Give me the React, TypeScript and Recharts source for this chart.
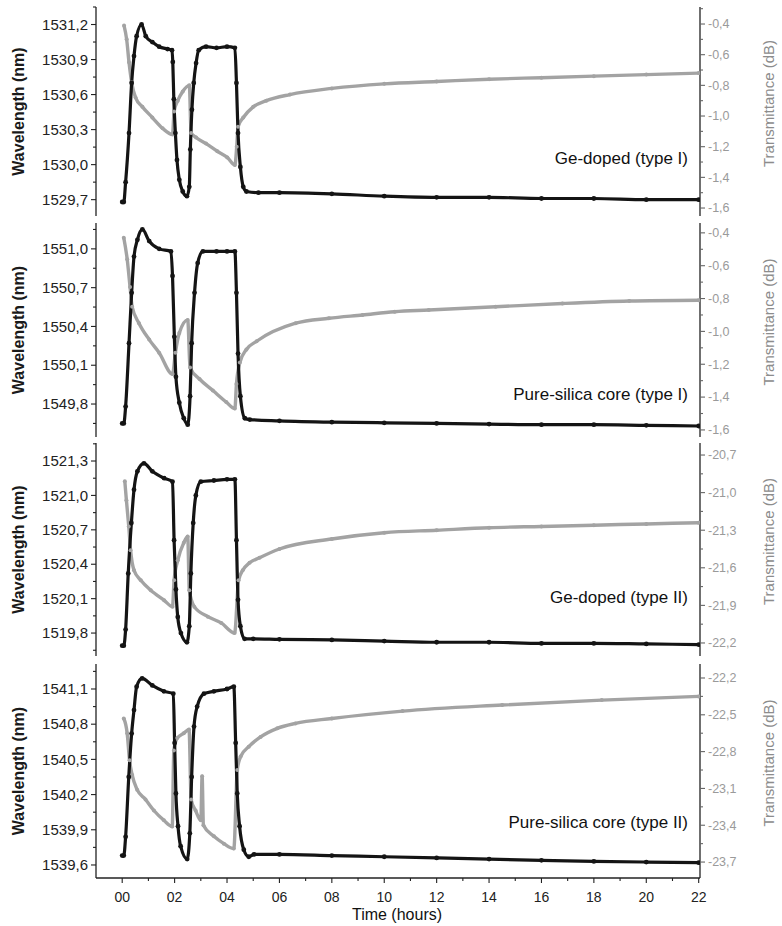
import React from 'react';
import { ComposedChart, Line, XAxis, YAxis } from 'recharts';

const FONT = '"Liberation Sans", Arial, sans-serif';
const INK = '#141414';
const GREY = '#a3a3a3';
const FRAME = '#222';

// time axis (hours)
const hourTicks = [0, 2, 4, 6, 8, 10, 12, 14, 16, 18, 20, 22];
const hourMinorTicks = [1, 3, 5, 7, 9, 11, 13, 15, 17, 19, 21];

// panel 1 - Ge-doped (type I)
const p1WaveT = [0, 0.06, 0.13, 0.26, 0.36, 0.45, 0.55, 0.74, 0.9, 1.15, 1.41, 1.73, 1.9, 1.93, 1.97, 2.03, 2.09, 2.18, 2.31, 2.47, 2.56, 2.6, 2.66, 2.73, 2.82, 2.92, 3.2, 3.6, 4.0, 4.3, 4.36, 4.42, 4.51, 4.62, 4.74, 5.2, 6, 8, 10, 12, 14, 16, 18, 20, 22];
const p1WaveV = [1529.68, 1529.68, 1529.85, 1530.27, 1530.7, 1530.93, 1531.1, 1531.2, 1531.1, 1531.05, 1531.01, 1530.99, 1530.98, 1530.88, 1530.56, 1530.27, 1530.04, 1529.87, 1529.77, 1529.73, 1529.81, 1530.13, 1530.47, 1530.7, 1530.87, 1530.98, 1531.01, 1531.0, 1531.01, 1531.0, 1530.7, 1530.27, 1529.98, 1529.81, 1529.77, 1529.76, 1529.76, 1529.75, 1529.73, 1529.72, 1529.72, 1529.71, 1529.71, 1529.7, 1529.7];
const p1TransT = [0.07, 0.17, 0.26, 0.36, 0.51, 0.77, 1.15, 1.54, 1.92, 1.98, 2.12, 2.31, 2.56, 2.63, 2.82, 3.2, 3.63, 4.01, 4.3, 4.37, 4.42, 4.62, 5.0, 5.5, 6.4, 8, 10, 12, 14, 16, 18, 20, 22];
const p1TransV = [-0.41, -0.5, -0.65, -0.78, -0.88, -0.94, -1.01, -1.08, -1.12, -0.97, -0.9, -0.84, -0.8, -1.11, -1.14, -1.18, -1.23, -1.27, -1.32, -1.2, -1.07, -1.01, -0.94, -0.9, -0.86, -0.82, -0.79, -0.775, -0.76, -0.75, -0.74, -0.73, -0.72];
const p1LeftTicks = [1529.7, 1530.0, 1530.3, 1530.6, 1530.9, 1531.2];
const p1RightTicks = [-1.6, -1.4, -1.2, -1.0, -0.8, -0.6, -0.4];

// panel 2 - Pure-silica core (type I)
const p2WaveT = [0, 0.06, 0.13, 0.26, 0.36, 0.45, 0.58, 0.77, 1.03, 1.41, 1.86, 1.92, 1.99, 2.05, 2.18, 2.35, 2.5, 2.59, 2.65, 2.76, 2.88, 3.08, 3.6, 4.0, 4.3, 4.36, 4.42, 4.51, 4.68, 4.87, 6, 8, 10, 12, 14, 16, 18, 20, 22];
const p2WaveV = [1549.65, 1549.65, 1549.78, 1550.27, 1550.66, 1550.94, 1551.07, 1551.15, 1551.06, 1551.0, 1550.98, 1550.79, 1550.32, 1550.01, 1549.81, 1549.69, 1549.64, 1549.86, 1550.27, 1550.66, 1550.89, 1550.98, 1550.98, 1550.98, 1550.98, 1550.66, 1550.19, 1549.86, 1549.69, 1549.68, 1549.67, 1549.66, 1549.655, 1549.65, 1549.645, 1549.64, 1549.64, 1549.635, 1549.63];
const p2TransT = [0.06, 0.19, 0.3, 0.38, 0.64, 1.03, 1.41, 1.92, 2.03, 2.18, 2.5, 2.59, 2.95, 3.46, 3.97, 4.3, 4.36, 4.49, 4.74, 5.13, 6.62, 7.89, 9.17, 10.4, 11.7, 14.25, 16.8, 19.35, 22];
const p2TransV = [-0.43, -0.56, -0.73, -0.85, -0.95, -1.05, -1.13, -1.26, -1.13, -1.01, -0.93, -1.22, -1.29, -1.36, -1.43, -1.47, -1.32, -1.19, -1.11, -1.06, -0.95, -0.92, -0.9, -0.88, -0.87, -0.85, -0.83, -0.815, -0.81];
const p2LeftTicks = [1549.8, 1550.1, 1550.4, 1550.7, 1551.0];
const p2RightTicks = [-1.6, -1.4, -1.2, -1.0, -0.8, -0.6, -0.4];

// panel 3 - Ge-doped (type II)
const p3WaveT = [0, 0.06, 0.13, 0.23, 0.35, 0.45, 0.58, 0.83, 1.15, 1.6, 1.92, 1.98, 2.05, 2.12, 2.24, 2.47, 2.56, 2.62, 2.71, 2.81, 3.0, 3.5, 4.0, 4.3, 4.36, 4.42, 4.51, 4.67, 5.0, 6, 8, 10, 12, 14, 16, 18, 20, 22];
const p3WaveV = [1519.69, 1519.69, 1519.83, 1520.32, 1520.76, 1521.05, 1521.21, 1521.28, 1521.21, 1521.15, 1521.12, 1520.61, 1520.18, 1519.94, 1519.8, 1519.72, 1519.86, 1520.32, 1520.76, 1521.0, 1521.12, 1521.13, 1521.14, 1521.14, 1520.61, 1520.09, 1519.86, 1519.75, 1519.75, 1519.745, 1519.74, 1519.73, 1519.72, 1519.72, 1519.71, 1519.71, 1519.705, 1519.7];
const p3TransT = [0.1, 0.16, 0.25, 0.32, 0.45, 0.71, 1.09, 1.6, 1.92, 1.98, 2.12, 2.35, 2.5, 2.56, 2.75, 3.27, 3.78, 4.29, 4.44, 4.6, 4.86, 5.24, 6, 8, 10, 12, 14, 16, 18, 20, 22];
const p3TransV = [-20.91, -21.06, -21.27, -21.46, -21.62, -21.7, -21.78, -21.86, -21.91, -21.7, -21.54, -21.4, -21.35, -21.78, -21.91, -21.99, -22.04, -22.12, -21.7, -21.62, -21.56, -21.52, -21.45, -21.37, -21.32, -21.3, -21.28, -21.27, -21.26, -21.25, -21.24];
const p3LeftTicks = [1519.8, 1520.1, 1520.4, 1520.7, 1521.0, 1521.3];
const p3RightTicks = [-22.2, -21.9, -21.6, -21.3, -21.0, -20.7];

// panel 4 - Pure-silica core (type II)
const p4WaveT = [0, 0.06, 0.13, 0.25, 0.36, 0.45, 0.55, 0.76, 1.15, 1.59, 1.95, 2.0, 2.05, 2.13, 2.23, 2.48, 2.58, 2.65, 2.74, 2.86, 3.12, 3.5, 4.0, 4.26, 4.33, 4.39, 4.48, 4.64, 4.83, 5.03, 6, 8, 10, 12, 14, 16, 18, 20, 22];
const p4WaveV = [1539.68, 1539.68, 1539.84, 1540.35, 1540.72, 1540.92, 1541.12, 1541.19, 1541.13, 1541.08, 1541.06, 1540.64, 1540.21, 1539.93, 1539.76, 1539.65, 1539.87, 1540.35, 1540.78, 1540.95, 1541.06, 1541.08, 1541.1, 1541.12, 1540.64, 1540.21, 1539.93, 1539.73, 1539.67, 1539.69, 1539.69, 1539.68, 1539.67, 1539.66, 1539.65, 1539.64, 1539.63, 1539.625, 1539.62];
const p4TransT = [0.06, 0.19, 0.28, 0.38, 0.57, 0.89, 1.21, 1.59, 1.91, 1.97, 2.1, 2.35, 2.55, 2.63, 2.8, 3.0, 3.05, 3.1, 3.5, 3.88, 4.26, 4.39, 4.52, 4.83, 5.28, 5.92, 6.61, 8, 10.7, 14.5, 18.3, 22];
const p4TransV = [-22.53, -22.65, -22.87, -22.99, -23.11, -23.19, -23.28, -23.36, -23.41, -22.79, -22.69, -22.65, -22.62, -23.19, -23.28, -23.36, -23.0, -23.4, -23.49, -23.55, -23.59, -22.95, -22.84, -22.76, -22.68, -22.61, -22.57, -22.53, -22.47, -22.42, -22.38, -22.35];
const p4LeftTicks = [1539.6, 1539.9, 1540.2, 1540.5, 1540.8, 1541.1];
const p4RightTicks = [-23.7, -23.4, -23.1, -22.8, -22.5, -22.2];

const pts = (t: number[], v: number[]) => t.map((x, i) => ({ t: x, v: v[i] }));

// major ticks plus the half-step minor ones inside the domain
const withMinor = (majors: number[], dom: number[]) => {
  const half = (majors[1] - majors[0]) / 2;
  const out: number[] = [];
  for (let i = -1; i <= majors.length * 2; i++) {
    const v = +(majors[0] + i * half).toFixed(3);
    if (v >= dom[0] && v <= dom[1]) out.push(v);
  }
  return out;
};

const fmt = (v: number) => v.toFixed(1).replace('.', ',');

const X_DOMAIN = [-1.0, 22.05];
const xTicks = [...hourTicks, ...hourMinorTicks].sort((a, b) => a - b);

const panels = [
  {
    note: 'Ge-doped (type I)', top: 7, h: 209, noteY: 164,
    wave: pts(p1WaveT, p1WaveV), trans: pts(p1TransT, p1TransV),
    left: p1LeftTicks, leftDomain: [1529.56, 1531.35],
    right: p1RightTicks, rightDomain: [-1.652, -0.289],
  },
  {
    note: 'Pure-silica core (type I)', top: 223, h: 214, noteY: 400,
    wave: pts(p2WaveT, p2WaveV), trans: pts(p2TransT, p2TransV),
    left: p2LeftTicks, leftDomain: [1549.545, 1551.2],
    right: p2RightTicks, rightDomain: [-1.643, -0.34],
  },
  {
    note: 'Ge-doped (type II)', top: 443, h: 213, noteY: 603,
    wave: pts(p3WaveT, p3WaveV), trans: pts(p3TransT, p3TransV),
    left: p3LeftTicks, leftDomain: [1519.6, 1521.457],
    right: p3RightTicks, rightDomain: [-22.304, -20.604],
  },
  {
    note: 'Pure-silica core (type II)', top: 664, h: 214, noteY: 828,
    wave: pts(p4WaveT, p4WaveV), trans: pts(p4TransT, p4TransV),
    left: p4LeftTicks, leftDomain: [1539.489, 1541.313],
    right: p4RightTicks, rightDomain: [-23.83, -22.086],
  },
];

const XTick = (props: any) => {
  const { x, y, payload, dir, showLabel } = props;
  const major = payload.value % 2 === 0;
  const len = major ? 5 : 3;
  return (
    <g>
      <line x1={x} y1={y} x2={x} y2={y + dir * len} stroke={FRAME} strokeWidth={1.1} />
      {showLabel && major && (
        <text x={x} y={y + 24} textAnchor="middle" fontSize={14} fill="#222" fontFamily={FONT}>
          {String(payload.value).padStart(2, '0')}
        </text>
      )}
    </g>
  );
};

const YTick = (props: any) => {
  const { x, y, payload, side, majors } = props;
  const v = payload.value;
  const major = majors.some((m: number) => Math.abs(m - v) < 1e-6);
  const dir = side === 'left' ? -1 : 1;
  const len = major ? 5 : 3;
  const isLeft = side === 'left';
  return (
    <g>
      <line x1={x} y1={y} x2={x + dir * len} y2={y} stroke={isLeft ? FRAME : '#666'} strokeWidth={1.1} />
      {major && (
        <text
          x={x + dir * (len + 3)}
          y={y}
          dy="0.35em"
          textAnchor={isLeft ? 'end' : 'start'}
          fontSize={isLeft ? 15 : 12.5}
          fill={isLeft ? '#222' : '#9a9a9a'}
          fontFamily={FONT}
        >
          {fmt(v)}
        </text>
      )}
    </g>
  );
};

const Panel = ({ cfg, last }: { cfg: any; last: boolean }) => {
  const mTop = 2;
  const mBot = last ? 0 : 6;
  const axisH = last ? 48 : 0;
  const height = mTop + cfg.h + axisH + mBot;
  const axisLine = { stroke: FRAME, strokeWidth: 1.3 };
  return (
    <div style={{ position: 'absolute', left: 0, top: cfg.top - mTop }}>
      <ComposedChart width={782} height={height} margin={{ top: mTop, right: 0, bottom: mBot, left: 0 }}>
        <XAxis
          xAxisId="bottom" dataKey="t" type="number" domain={X_DOMAIN} ticks={xTicks} interval={0}
          allowDataOverflow height={axisH} tickSize={0} tickMargin={0} tickLine={false} axisLine={axisLine}
          tick={(p: any) => <XTick {...p} dir={last ? 1 : -1} showLabel={last} />}
        />
        <XAxis
          xAxisId="top" orientation="top" dataKey="t" type="number" domain={X_DOMAIN} ticks={xTicks} interval={0}
          allowDataOverflow height={0} tickSize={0} tickMargin={0} tickLine={false} axisLine={axisLine}
          tick={(p: any) => <XTick {...p} dir={1} showLabel={false} />}
        />
        <YAxis
          yAxisId="left" type="number" width={96} domain={cfg.leftDomain} allowDataOverflow
          ticks={withMinor(cfg.left, cfg.leftDomain)} interval={0} tickSize={0} tickMargin={0}
          tickLine={false} axisLine={axisLine}
          tick={(p: any) => <YTick {...p} side="left" majors={cfg.left} />}
        />
        <YAxis
          yAxisId="right" orientation="right" type="number" width={82} domain={cfg.rightDomain} allowDataOverflow
          ticks={withMinor(cfg.right, cfg.rightDomain)} interval={0} tickSize={0} tickMargin={0}
          tickLine={false} axisLine={axisLine}
          tick={(p: any) => <YTick {...p} side="right" majors={cfg.right} />}
        />
        <Line
          xAxisId="top" yAxisId="right" data={cfg.trans} dataKey="v" type="monotone"
          stroke={GREY} strokeWidth={3.4} dot={{ r: 2, fill: GREY, stroke: 'none' }}
          activeDot={false} isAnimationActive={false}
        />
        <Line
          xAxisId="bottom" yAxisId="left" data={cfg.wave} dataKey="v" type="monotone"
          stroke={INK} strokeWidth={3.2} dot={{ r: 2.4, fill: INK, stroke: 'none' }}
          activeDot={false} isAnimationActive={false}
        />
      </ComposedChart>
    </div>
  );
};

export default function App() {
  return (
    <div style={{ position: 'absolute', left: 0, top: 0, width: 782, height: 926, background: '#fff', overflow: 'hidden' }}>
      {panels.map((cfg, i) => (
        <Panel key={cfg.note} cfg={cfg} last={i === panels.length - 1} />
      ))}
      <svg width={782} height={926} style={{ position: 'absolute', left: 0, top: 0, pointerEvents: 'none' }}>
        {panels.map((cfg) => {
          const cy = cfg.top + cfg.h / 2;
          return (
            <g key={cfg.note}>
              <text
                x={18} y={cy} transform={`rotate(-90 18 ${cy})`} textAnchor="middle" dominantBaseline="central"
                fontSize={16} fontWeight="bold" fill="#1a1a1a" fontFamily={FONT}
              >
                Wavelength (nm)
              </text>
              <text
                x={768} y={cy - 8} transform={`rotate(-90 768 ${cy - 8})`} textAnchor="middle" dominantBaseline="central"
                fontSize={15} fill="#8c8c8c" fontFamily={FONT}
              >
                Transmittance (dB)
              </text>
              <text x={688} y={cfg.noteY} textAnchor="end" fontSize={17} fill="#111" fontFamily={FONT}>
                {cfg.note}
              </text>
            </g>
          );
        })}
        <text x={397} y={920} textAnchor="middle" fontSize={16} fill="#111" fontFamily={FONT}>
          Time (hours)
        </text>
      </svg>
    </div>
  );
}
